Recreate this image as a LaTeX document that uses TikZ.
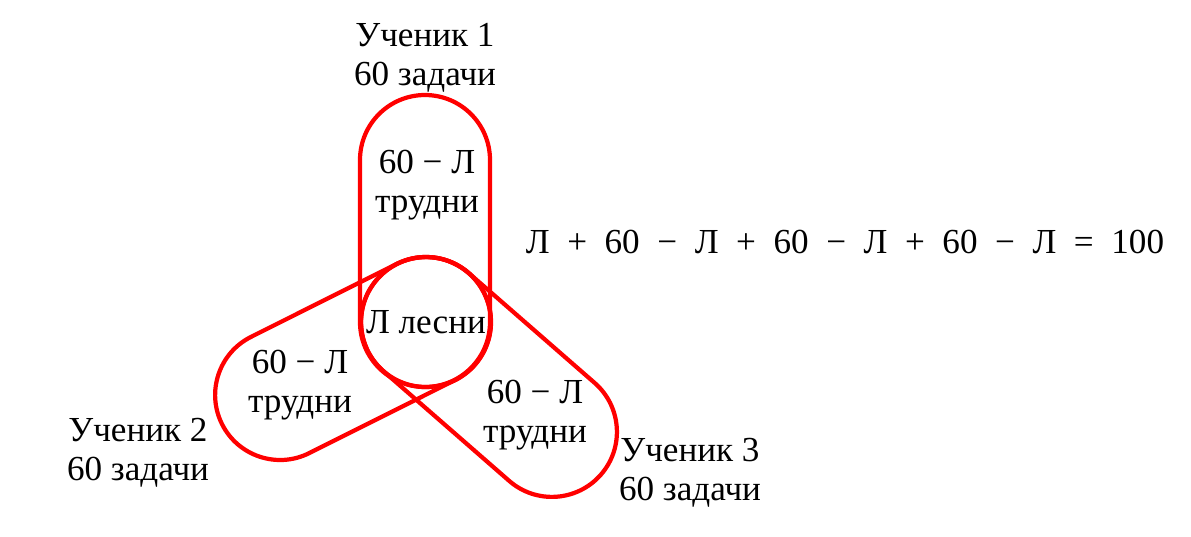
\documentclass[tikz,border=0pt]{standalone}
\usepackage{fontspec}
\setmainfont{Liberation Serif}
\usetikzlibrary{positioning}
\tikzset{capsule/.style={rectangle, rounded corners=0.65cm, minimum height=1.3cm, inner sep=0pt, draw=red, line width=1.2pt},easy/.style={circle, minimum size=1.3cm, inner sep=0pt, draw=red, line width=1.2pt},txt/.style={align=center, font=\fontsize{10}{11}\selectfont}}

\begin{document}
\begin{tikzpicture}[txt]
\useasboundingbox (0,0) rectangle (11.91,5.36);

%students
\node (stud1) at (4.25,2.95)[capsule,minimum width=2.92cm,rotate=90]{};
\node (stud2) at (3.53,1.775)[capsule,minimum width=2.93cm,rotate=26.6]{};
\node (stud3) at (4.89,1.59)[capsule,minimum width=2.97cm,rotate=-41.1]{};
\node (easy) at (4.26,2.14)[easy]{};

%texts
\node (hard1) at (4.27,3.51){60 − Л\\трудни};
\node (hard2) at (3.00,1.51){60 − Л\\трудни};
\node (hard3) at (5.35,1.21){60 − Л\\трудни};
\node at (easy) {Л лесни};

%labels
\node (name1) at (4.25,4.78){Ученик 1\\60 задачи};
\node (name2) at (1.38,0.83){Ученик 2\\60 задачи};
\node (name3) at (6.90,0.63){Ученик 3\\60 задачи};

%sum
\node (sum) at (8.45,2.94){Л\enspace+\enspace60\enspace−\enspace Л\enspace+\enspace60\enspace−\enspace Л\enspace+\enspace60\enspace−\enspace Л\enspace=\enspace100};
\end{tikzpicture}
\end{document}
